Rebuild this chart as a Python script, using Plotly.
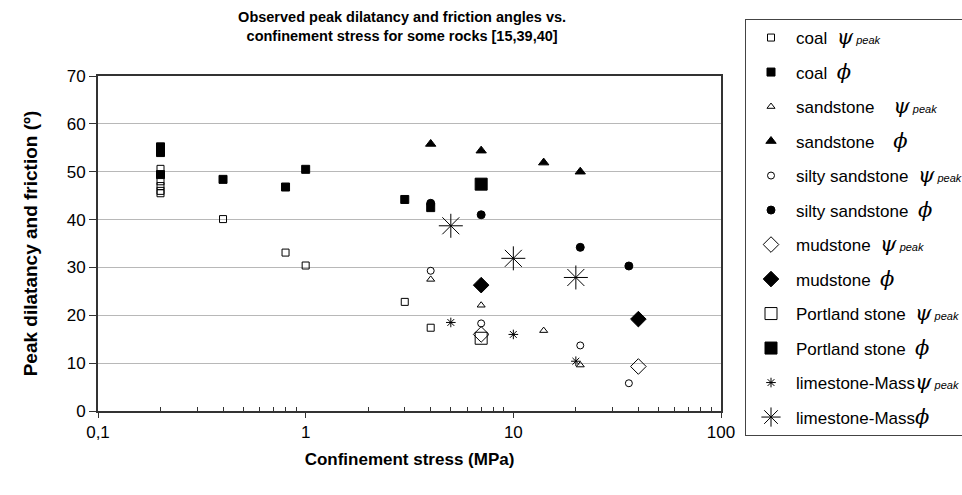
import plotly.graph_objects as go

# ---- data ----
coal_psi_x = [0.2, 0.2, 0.2, 0.2, 0.2, 0.4, 0.8, 1, 3, 4]
coal_psi_y = [50.6, 48.0, 47.0, 46.0, 45.5, 40.1, 33.1, 30.4, 22.8, 17.4]
coal_phi_x = [0.2, 0.2, 0.2, 0.4, 0.8, 1, 3, 4]
coal_phi_y = [55.2, 54.0, 49.4, 48.4, 46.8, 50.5, 44.2, 42.5]
sand_psi_x = [4, 7, 14, 21]
sand_psi_y = [27.5, 22.1, 16.8, 9.6]
sand_phi_x = [4, 7, 14, 21]
sand_phi_y = [55.8, 54.4, 51.9, 50.0]
silty_psi_x = [4, 7, 21, 36]
silty_psi_y = [29.3, 18.3, 13.7, 5.8]
silty_phi_x = [4, 7, 21, 36]
silty_phi_y = [43.4, 41.0, 34.2, 30.3]
mud_psi_x = [7, 40]
mud_psi_y = [16.0, 9.3]
mud_phi_x = [7, 40]
mud_phi_y = [26.3, 19.2]
port_psi_x = [7]
port_psi_y = [15.2]
port_phi_x = [7]
port_phi_y = [47.4]
lime_psi_x = [5, 10, 20]
lime_psi_y = [18.5, 16.0, 10.4]
lime_phi_x = [5, 10, 20]
lime_phi_y = [38.7, 31.9, 27.9]

x_tickvals = [0.1, 1, 10, 100]
x_ticktext = ["0,1", "1", "10", "100"]
y_tickvals = [0, 10, 20, 30, 40, 50, 60, 70]

PSI = "<span style=\"font-family:'DejaVu Serif';font-size:21px\"><i>ψ</i></span><span style=\"font-size:11px\"><i> peak</i></span>"
PHI = "<span style=\"font-family:'DejaVu Serif';font-size:21px\"><i>ϕ</i></span>"

series = [
    ("coal  " + PSI, coal_psi_x, coal_psi_y, "square-open", 7),
    ("coal  " + PHI, coal_phi_x, coal_phi_y, "square", 8),
    ("sandstone    " + PSI, sand_psi_x, sand_psi_y, "triangle-up-open", 7),
    ("sandstone    " + PHI, sand_phi_x, sand_phi_y, "triangle-up", 9),
    ("silty sandstone  " + PSI, silty_psi_x, silty_psi_y, "circle-open", 7),
    ("silty sandstone  " + PHI, silty_phi_x, silty_phi_y, "circle", 8),
    ("mudstone  " + PSI, mud_psi_x, mud_psi_y, "diamond-open", 12),
    ("mudstone  " + PHI, mud_phi_x, mud_phi_y, "diamond", 12),
    ("Portland stone  " + PSI, port_psi_x, port_psi_y, "square-open", 12),
    ("Portland stone  " + PHI, port_phi_x, port_phi_y, "square", 12),
    ("limestone-Mass" + PSI, lime_psi_x, lime_psi_y, "asterisk-open", 8),
    ("limestone-Mass" + PHI, lime_phi_x, lime_phi_y, "asterisk-open", 20),
]

fig = go.Figure()
for i, (name, xs, ys, sym, sz) in enumerate(series):
    fig.add_trace(go.Scatter(
        x=xs, y=ys, mode="markers", name=name, legendgroup=f"g{i}",
        marker=dict(symbol=sym, size=sz, color="black",
                    line=dict(color="black", width=1)),
    ))

fig.update_layout(
    width=962, height=495,
    paper_bgcolor="white", plot_bgcolor="white",
    margin=dict(l=98, r=241, t=76, b=84, autoexpand=False),
    font=dict(family="Liberation Sans, Arial, sans-serif", color="black", size=14),
    title=dict(
        text="<b>Observed peak dilatancy and friction angles vs.<br>confinement stress for some rocks [15,39,40]</b>",
        x=0.418, xanchor="center", y=0.955, yanchor="top",
        font=dict(size=14.5, family="Liberation Sans, Arial, sans-serif"),
    ),
    legend=dict(
        x=745 / 962, xanchor="left", y=1 - 19 / 495, yanchor="top",
        xref="container", yref="container",
        bordercolor="#444", borderwidth=1, bgcolor="white",
        font=dict(size=17), tracegroupgap=9.4, itemwidth=40,
        maxheight=440,
    ),
    showlegend=True,
)

fig.update_xaxes(
    type="log", range=[-1, 2],
    tickvals=x_tickvals, ticktext=x_ticktext,
    ticks="outside", ticklen=5, tickcolor="#333", tickfont=dict(size=17),
    showline=True, linecolor="#333", linewidth=2, mirror=True,
    showgrid=False, zeroline=False,
    minor=dict(ticks="inside", ticklen=4, tickcolor="#333",
               tickvals=[m * d for d in (0.1, 1, 10) for m in range(2, 10)],
               showgrid=False),
    title=dict(text="<b>Confinement stress (MPa)</b>", font=dict(size=17), standoff=12),
)
fig.update_yaxes(
    range=[0, 70], tickvals=y_tickvals,
    ticks="outside", ticklen=7, tickcolor="#333", tickfont=dict(size=17),
    showline=True, linecolor="#333", linewidth=2, mirror=True,
    showgrid=True, gridcolor="#b8b8b8", gridwidth=1, zeroline=False,
    title=dict(text="<b>Peak dilatancy and friction (º)</b>", font=dict(size=19), standoff=24),
)

fig.write_html("out.html")
